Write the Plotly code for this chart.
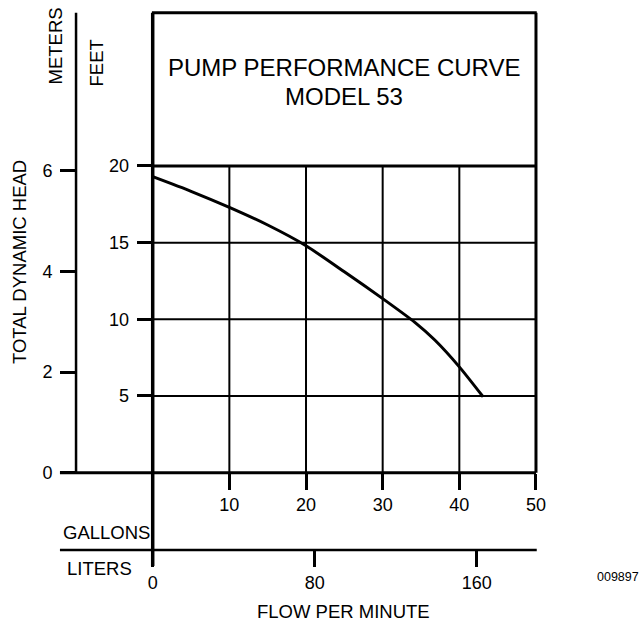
import plotly.graph_objects as go

# ---- data ----
flow_gpm = [0, 5, 10, 15, 20, 25, 30, 34.2, 36.8, 40, 43.1]
head_ft = [19.3, 18.35, 17.3, 16.15, 14.8, 13.1, 11.35, 9.8, 8.65, 6.9, 4.95]

gallon_ticks = [10, 20, 30, 40, 50]
feet_ticks = [5, 10, 15, 20]
meter_ticks = [0, 2, 4, 6]
liter_ticks = [0, 80, 160]
grid_x = [10, 20, 30, 40]
grid_y = [5, 10, 15]

FT_PER_M = 3.28084
L_PER_GAL = 3.78541

W, H = 642, 626
X_RANGE = [-19.92, 63.83]      # gallons
Y_RANGE = [-10.0, 30.825]      # feet
GAL_MAX = 50
GRID_TOP = 20
BOX_TOP = 30
METER_AXIS_X = -10             # gallons position of meter axis line
LEFT_EXT = -12.1               # left extension of base lines
SEP_Y = -5.04                  # feet position of gallons/liters separator
LEFT_BOTTOM = -6.08            # bottom of left border

def xp(v):
    return (v - X_RANGE[0]) / (X_RANGE[1] - X_RANGE[0])

def yp(v):
    return (v - Y_RANGE[0]) / (Y_RANGE[1] - Y_RANGE[0])

BLACK = "#000000"
FONT = "Liberation Sans, Arial, sans-serif"

fig = go.Figure()

fig.add_trace(go.Scatter(
    x=flow_gpm, y=head_ft, mode="lines",
    line=dict(color=BLACK, width=3, shape="spline", smoothing=0.6),
    hoverinfo="skip", showlegend=False))

# dummy trace to instantiate secondary axes
fig.add_trace(go.Scatter(x=[None], y=[None], xaxis="x2", yaxis="y2",
                         mode="lines", showlegend=False, hoverinfo="skip"))

shapes = []
def line(x0, y0, x1, y1, w):
    shapes.append(dict(type="line", xref="x", yref="y", x0=x0, y0=y0, x1=x1, y1=y1,
                       line=dict(color=BLACK, width=w), layer="above"))

for gx in grid_x:
    line(gx, 0, gx, GRID_TOP, 2)
for gy in grid_y:
    line(0, gy, GAL_MAX, gy, 2)
line(0, GRID_TOP, GAL_MAX, GRID_TOP, 3)
line(-0.1, BOX_TOP, GAL_MAX + 0.1, BOX_TOP, 3)
line(GAL_MAX, 0, GAL_MAX, BOX_TOP, 3)
line(0, LEFT_BOTTOM, 0, BOX_TOP, 3.5)
line(LEFT_EXT, 0, GAL_MAX, 0, 3)
line(METER_AXIS_X, 0, METER_AXIS_X, BOX_TOP, 2.5)
line(LEFT_EXT, SEP_Y, GAL_MAX + 0.1, SEP_Y, 2.5)

tickfont = dict(family=FONT, size=18, color=BLACK)

fig.update_layout(
    width=W, height=H, margin=dict(l=0, r=0, t=0, b=0),
    paper_bgcolor="white", plot_bgcolor="white",
    shapes=shapes,
    xaxis=dict(range=X_RANGE, domain=[0, 1], anchor="free", position=yp(0),
               tickvals=gallon_ticks, ticktext=[str(v) for v in gallon_ticks],
               ticks="outside", ticklen=16, tickwidth=2.5, tickcolor=BLACK,
               showgrid=False, zeroline=False, showline=False,
               tickfont=tickfont, ticklabelstandoff=0),
    yaxis=dict(range=Y_RANGE, domain=[0, 1], anchor="free", position=xp(0),
               tickvals=feet_ticks, ticktext=[str(v) for v in feet_ticks],
               ticks="outside", ticklen=16, tickwidth=2.5, tickcolor=BLACK,
               showgrid=False, zeroline=False, showline=False,
               tickfont=tickfont, ticklabelstandoff=4),
    xaxis2=dict(range=[v * L_PER_GAL for v in X_RANGE], overlaying="x",
                anchor="free", position=yp(SEP_Y), side="bottom",
                tickvals=liter_ticks, ticktext=[str(v) for v in liter_ticks],
                ticks="outside", ticklen=16, tickwidth=2.5, tickcolor=BLACK,
                showgrid=False, zeroline=False, showline=False,
                tickfont=tickfont, ticklabelstandoff=0),
    yaxis2=dict(range=[v / FT_PER_M for v in Y_RANGE], overlaying="y",
                anchor="free", position=xp(METER_AXIS_X), side="left",
                tickvals=meter_ticks, ticktext=[str(v) for v in meter_ticks],
                ticks="outside", ticklen=16, tickwidth=2.5, tickcolor=BLACK,
                showgrid=False, zeroline=False, showline=False,
                tickfont=tickfont, ticklabelstandoff=4),
)

def ann(text, x, y, size=18.5, angle=0, xanchor="center", yanchor="middle"):
    fig.add_annotation(text=text, xref="paper", yref="paper", x=x / W, y=1 - y / H,
                       showarrow=False, textangle=angle, xanchor=xanchor, yanchor=yanchor,
                       font=dict(family=FONT, size=size, color=BLACK))

ann("PUMP PERFORMANCE CURVE", 344.3, 68, size=24)
ann("MODEL 53", 344.3, 97, size=24)
ann("TOTAL DYNAMIC HEAD", 19, 262, angle=-90)
ann("METERS", 55, 46.5, angle=-90)
ann("FEET", 96, 62.5, angle=-90)
ann("GALLONS", 106.7, 532.7)
ann("LITERS", 99, 568)
ann("FLOW PER MINUTE", 344, 611.7)
ann("009897", 618, 577, size=12.5)

fig.write_html("out.html", config={"displayModeBar": False},
               post_script="document.body.style.margin='0';document.body.style.overflow='hidden';")
